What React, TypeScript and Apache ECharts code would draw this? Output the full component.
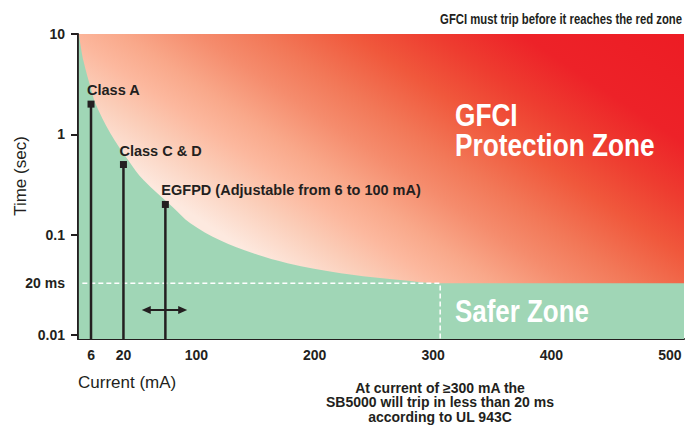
import React, { useEffect, useRef } from "react";
import * as echarts from "echarts";

// ---- Scale anchors (the reference uses a stylised, piecewise axis) ----
const X_ANCHOR_MA = [0, 6, 20, 100, 512];
const X_ANCHOR_POS = [0, 11, 38.4, 100, 512];
const Y_ANCHOR_SEC = [0.01, 0.02, 0.1, 10];
const Y_ANCHOR_POS = [-2, -1.485, -1, 1];
const Y_AXIS_FLOOR = -2.04;

// ---- Tick labels ----
const xTickValues = [6, 20, 100, 200, 300, 400, 500];
const xTickLabels = ["6", "20", "100", "200", "300", "400", "500"];
const yLabelValues = [0.01, 0.02, 0.1, 1, 10];
const yLabelTexts = ["0.01", "20 ms", "0.1", "1", "10"];
const yTickValues = [0.01, 0.1, 1, 10];

// ---- Trip curve (current mA, time s) ----
const curveCurrent = [0.4, 2.5, 6.2, 7.9, 14.4, 25.5, 42, 73.6, 93.4, 120, 148, 177, 222, 272, 306, 512];
const curveTime = [10, 5.4, 2.73, 2.03, 1.02, 0.55, 0.35, 0.19, 0.13, 0.083, 0.054, 0.039, 0.028, 0.0223, 0.02, 0.02];

// ---- Device classes ----
const markerNames = ["Class A", "Class C & D", "EGFPD (Adjustable from 6 to 100 mA)"];
const markerCurrent = [6, 20, 66];
const markerTime = [2, 0.5, 0.2];

// ---- 20 ms threshold and adjustment arrow ----
const safeLineStart = 2;
const safeCurrent = 306;
const safeTime = 0.02;
const arrowCurrent = [45, 85];
const arrowTime = 0.014;

const INK = "#231f20";
const GREEN = "#a0d6b6";
const FONT_B = "'Liberation Sans', Arial, Helvetica, sans-serif";
const FONT_R = "'Liberation Sans', Arial, sans-serif";

function interp(v: number, xs: number[], ys: number[]) {
  let i = 0;
  while (i < xs.length - 2 && v > xs[i + 1]) i++;
  const t = (v - xs[i]) / (xs[i + 1] - xs[i]);
  return ys[i] + t * (ys[i + 1] - ys[i]);
}
const toU = (mA: number) => interp(mA, X_ANCHOR_MA, X_ANCHOR_POS);
const toD = (s: number) =>
  interp(Math.log10(s), Y_ANCHOR_SEC.map((v) => Math.log10(v)), Y_ANCHOR_POS);

function nearestLabel(v: number, positions: number[], labels: string[]) {
  let best = 0;
  for (let i = 1; i < positions.length; i++) {
    if (Math.abs(positions[i] - v) < Math.abs(positions[best] - v)) best = i;
  }
  return labels[best];
}

export default function App() {
  const ref = useRef<HTMLDivElement>(null);
  useEffect(() => {
    document.body.style.margin = "0";
    const chart = echarts.init(ref.current!, null, { renderer: "svg" });
    const xPos = xTickValues.map(toU);
    const yPos = yLabelValues.map(toD);

    const redGradient = new echarts.graphic.LinearGradient(
      170.5, 200.3, 407.4, -154.9,
      [
        { offset: 0, color: "#fde9df" },
        { offset: 0.11, color: "#fbcdb8" },
        { offset: 0.188, color: "#fcb89e" },
        { offset: 0.26, color: "#f9a88a" },
        { offset: 0.357, color: "#f58c6d" },
        { offset: 0.442, color: "#f27858" },
        { offset: 0.558, color: "#f0583c" },
        { offset: 0.662, color: "#ee3d30" },
        { offset: 0.779, color: "#ed2228" },
        { offset: 1, color: "#ed1c24" },
      ],
      true
    );

    const markerSeries = markerNames.map((name, i) => ({
      type: "line",
      name,
      silent: true,
      z: 5,
      symbol: "rect",
      symbolSize: 7,
      showSymbol: true,
      lineStyle: { color: INK, width: 2.5 },
      itemStyle: { color: INK },
      emphasis: { disabled: true },
      data: [
        { value: [toU(markerCurrent[i]), Y_AXIS_FLOOR], symbol: "none" },
        {
          value: [toU(markerCurrent[i]), toD(markerTime[i])],
          label: {
            show: true,
            position: "top",
            align: "left",
            distance: 3,
            offset: [-4, 0],
            formatter: name,
            color: INK,
            fontFamily: FONT_B,
            fontWeight: "bold",
            fontSize: 14.5,
          },
        },
      ],
    }));

    chart.setOption({
      animation: false,
      grid: {
        left: 78,
        right: 15,
        top: 34,
        bottom: 433 - 339,
        show: true,
        backgroundColor: redGradient,
        borderWidth: 0,
      },
      xAxis: {
        type: "value",
        min: 0,
        max: toU(512),
        splitLine: { show: false },
        axisLine: { onZero: false, lineStyle: { color: INK, width: 2 } },
        axisTick: { show: false },
        axisLabel: {
          customValues: xPos,
          formatter: (v: number) => nearestLabel(v, xPos, xTickLabels),
          color: INK,
          fontFamily: FONT_B,
          fontWeight: "bold",
          fontSize: 14,
          margin: 9,
        },
      },
      yAxis: {
        type: "value",
        min: Y_AXIS_FLOOR,
        max: 1,
        splitLine: { show: false },
        axisLine: { show: true, onZero: false, lineStyle: { color: INK, width: 2 } },
        axisTick: {
          show: true,
          length: 7,
          customValues: yTickValues.map(toD),
          lineStyle: { color: INK, width: 2 },
        },
        axisLabel: {
          customValues: yPos,
          formatter: (v: number) => nearestLabel(v, yPos, yLabelTexts),
          color: INK,
          fontFamily: FONT_B,
          fontWeight: "bold",
          fontSize: 14,
          margin: 13,
        },
      },
      series: [
        {
          type: "line",
          name: "Trip curve",
          silent: true,
          z: 1,
          symbol: "none",
          smooth: 0.35,
          lineStyle: { width: 0 },
          areaStyle: { color: GREEN, opacity: 1, origin: "start" },
          data: curveCurrent.map((c, i) => [toU(c), toD(curveTime[i])]),
        },
        {
          type: "line",
          name: "20 ms",
          silent: true,
          z: 2,
          symbol: "none",
          lineStyle: { color: "#ffffff", width: 1.5, type: [5, 3] },
          data: [
            [toU(safeLineStart), toD(safeTime)],
            [toU(safeCurrent), toD(safeTime)],
            [toU(safeCurrent), Y_AXIS_FLOOR],
          ],
        },
        ...markerSeries,
        {
          type: "line",
          name: "Adjustment",
          silent: true,
          z: 5,
          symbol: "triangle",
          symbolSize: [8, 9],
          lineStyle: { color: INK, width: 2 },
          itemStyle: { color: INK },
          emphasis: { disabled: true },
          data: [
            { value: [toU(arrowCurrent[0]), toD(arrowTime)], symbolRotate: 90 },
            { value: [toU(arrowCurrent[1]), toD(arrowTime)], symbolRotate: -90 },
          ],
        },
      ],
      graphic: [
        {
          type: "text",
          x: 682,
          y: 19,
          scaleX: 0.78,
          style: {
            text: "GFCI must trip before it reaches the red zone",
            align: "right",
            verticalAlign: "middle",
            fill: INK,
            fontFamily: FONT_B,
            fontWeight: "bold",
            fontSize: 14.5,
          },
        },
        {
          type: "text",
          x: 455,
          y: 130,
          z: 10,
          scaleX: 0.82,
          style: {
            text: "GFCI\nProtection Zone",
            align: "left",
            verticalAlign: "middle",
            fill: "#ffffff",
            fontFamily: FONT_B,
            fontWeight: "bold",
            fontSize: 32,
            lineHeight: 30,
          },
        },
        {
          type: "text",
          x: 455,
          y: 311,
          z: 10,
          scaleX: 0.81,
          style: {
            text: "Safer Zone",
            align: "left",
            verticalAlign: "middle",
            fill: "#ffffff",
            fontFamily: FONT_B,
            fontWeight: "bold",
            fontSize: 32,
          },
        },
        {
          type: "text",
          x: 20,
          y: 176,
          rotation: Math.PI / 2,
          style: {
            text: "Time (sec)",
            align: "center",
            verticalAlign: "middle",
            fill: INK,
            fontFamily: FONT_R,
            fontSize: 17,
          },
        },
        {
          type: "text",
          x: 78,
          y: 382,
          style: {
            text: "Current (mA)",
            align: "left",
            verticalAlign: "middle",
            fill: INK,
            fontFamily: FONT_R,
            fontSize: 17,
          },
        },
        {
          type: "text",
          x: 440,
          y: 402,
          style: {
            text: "At current of \u2265300 mA the\nSB5000 will trip in less than 20 ms\naccording to UL 943C",
            align: "center",
            verticalAlign: "middle",
            fill: INK,
            fontFamily: FONT_B,
            fontWeight: "bold",
            fontSize: 14,
            lineHeight: 14.5,
          },
        },
      ],
    });
    return () => chart.dispose();
  }, []);
  return <div ref={ref} style={{ width: 699, height: 433 }} />;
}
